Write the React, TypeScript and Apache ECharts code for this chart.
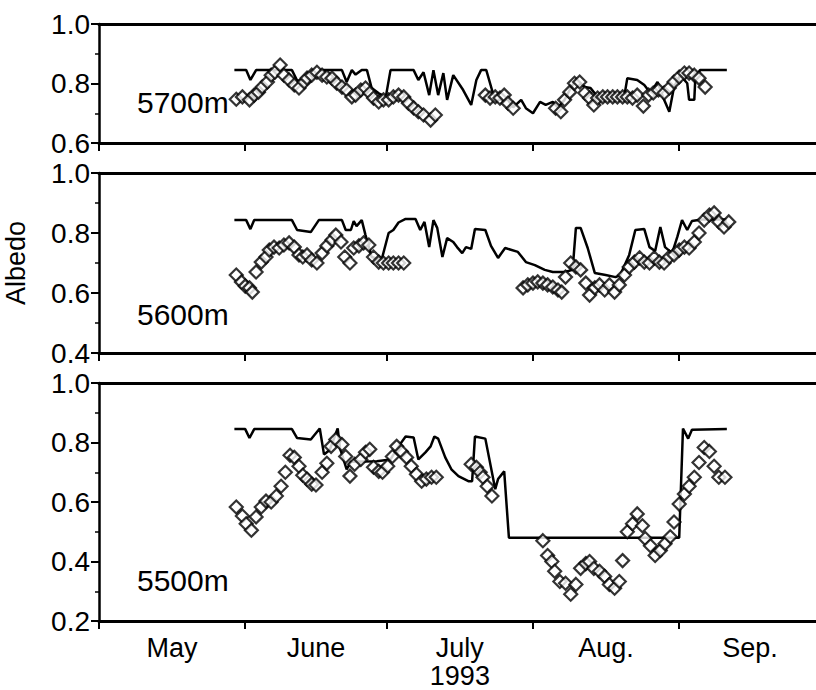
import React, { useEffect, useRef } from "react";
import * as echarts from "echarts";

// Day index: 0 = 1 May 1993
const monthStarts = [0, 31, 61, 92, 123];
const monthMids = [15.5, 46, 76.5, 107.5, 138];
const monthNames = ["May", "June", "July", "Aug.", "Sep."];
const yearLabel = "1993";
const panelLabels = ["5700m", "5600m", "5500m"];
const yMins = [0.6, 0.4, 0.2];

// 5700 m
const model5700: number[][] = [
  [28.7, 0.845], [31.2, 0.845], [32.1, 0.812], [33.3, 0.845], [40.9, 0.845], [42.0, 0.81], [44.9, 0.81],
  [47.0, 0.845], [51.5, 0.845], [52.5, 0.805], [53.6, 0.845], [54.4, 0.83], [55.7, 0.845], [56.8, 0.845],
  [57.8, 0.785], [59.3, 0.767], [60.8, 0.755], [61.8, 0.845], [66.7, 0.845], [67.7, 0.812], [68.8, 0.838],
  [70.0, 0.761], [70.9, 0.845], [71.9, 0.761], [73.0, 0.835], [73.8, 0.745], [75.1, 0.828], [77.2, 0.778],
  [78.9, 0.728], [80.0, 0.812], [81.0, 0.845], [82.1, 0.845], [83.5, 0.768], [84.2, 0.745], [86.7, 0.745],
  [87.8, 0.72], [89.5, 0.745], [90.5, 0.717], [92.0, 0.70], [93.5, 0.738], [94.7, 0.728], [96.2, 0.738],
  [97.3, 0.72], [98.7, 0.745], [100.0, 0.785], [101.1, 0.812], [103.0, 0.788], [104.2, 0.785], [105.7, 0.755],
  [108.4, 0.761], [111.4, 0.761], [112.0, 0.818], [114.1, 0.812], [115.6, 0.795], [116.9, 0.768], [118.4, 0.805],
  [119.8, 0.745], [120.9, 0.705], [121.9, 0.788], [123.2, 0.828], [124.7, 0.801], [125.1, 0.745], [126.2, 0.745],
  [126.4, 0.812], [127.4, 0.845], [133.1, 0.845],
];
const obs5700: number[][] = [
  [29.1, 0.747], [30.4, 0.755], [31.9, 0.745], [32.9, 0.761], [33.8, 0.771], [34.6, 0.788], [35.7, 0.805],
  [36.5, 0.828], [37.3, 0.838], [38.4, 0.862], [39.2, 0.828], [40.3, 0.812], [41.4, 0.795], [42.4, 0.785],
  [43.5, 0.805], [44.1, 0.818], [45.1, 0.828], [46.2, 0.838], [47.3, 0.828], [48.3, 0.822], [49.4, 0.818],
  [50.4, 0.801], [51.5, 0.788], [52.5, 0.778], [53.6, 0.755], [54.4, 0.761], [55.5, 0.778], [56.5, 0.785],
  [57.4, 0.768], [58.2, 0.751], [59.3, 0.738], [60.3, 0.745], [61.4, 0.745], [62.4, 0.755], [63.5, 0.761],
  [64.6, 0.755], [65.6, 0.734], [66.7, 0.718], [67.7, 0.705], [68.8, 0.694], [70.3, 0.677], [71.3, 0.694],
  [81.9, 0.761], [82.9, 0.751], [84.0, 0.755], [85.0, 0.751], [85.9, 0.761], [86.7, 0.734], [87.8, 0.717],
  [96.8, 0.717], [97.9, 0.705], [98.7, 0.745], [99.8, 0.771], [100.8, 0.801], [101.9, 0.805], [103.0, 0.768],
  [104.0, 0.751], [104.9, 0.728], [105.7, 0.751], [106.8, 0.755], [107.8, 0.755], [108.9, 0.755], [109.9, 0.755],
  [111.0, 0.755], [112.0, 0.755], [113.1, 0.751], [114.1, 0.761], [115.4, 0.724], [116.5, 0.761], [117.5, 0.768],
  [118.6, 0.778], [119.8, 0.768], [120.9, 0.785], [121.9, 0.805], [123.0, 0.822], [124.1, 0.835], [125.1, 0.835],
  [126.2, 0.828], [127.2, 0.818], [128.5, 0.788],
];

// 5600 m
const model5600: number[][] = [
  [28.7, 0.843], [31.2, 0.843], [32.1, 0.813], [32.9, 0.843], [40.9, 0.843], [42.0, 0.81], [44.9, 0.803],
  [46.6, 0.843], [51.5, 0.843], [52.3, 0.81], [53.4, 0.81], [54.0, 0.84], [54.6, 0.823], [55.7, 0.843],
  [56.5, 0.793], [57.8, 0.72], [59.9, 0.71], [61.4, 0.80], [62.4, 0.81], [63.5, 0.835], [65.0, 0.847],
  [67.1, 0.847], [68.1, 0.81], [69.0, 0.837], [70.0, 0.753], [70.9, 0.843], [71.7, 0.817], [72.8, 0.72],
  [73.8, 0.783], [75.1, 0.77], [75.9, 0.753], [77.0, 0.733], [77.8, 0.753], [78.9, 0.747], [79.7, 0.813],
  [81.9, 0.81], [83.1, 0.757], [84.6, 0.717], [86.1, 0.75], [88.8, 0.737], [90.5, 0.703], [92.4, 0.693],
  [94.5, 0.677], [96.2, 0.67], [98.7, 0.67], [100.4, 0.677], [101.1, 0.817], [102.1, 0.817], [103.6, 0.75],
  [105.1, 0.667], [107.4, 0.66], [109.5, 0.653], [110.5, 0.66], [112.4, 0.727], [113.7, 0.81], [115.6, 0.813],
  [116.7, 0.753], [117.9, 0.74], [119.0, 0.82], [120.0, 0.753], [121.5, 0.733], [122.6, 0.787], [123.6, 0.843],
  [124.7, 0.81], [125.7, 0.84], [127.8, 0.845], [133.1, 0.845],
];
const obs5600: number[][] = [
  [29.1, 0.66], [30.2, 0.637], [31.0, 0.623], [31.9, 0.617], [32.5, 0.603], [33.3, 0.67], [34.4, 0.703],
  [35.4, 0.72], [36.1, 0.743], [37.1, 0.753], [38.2, 0.75], [39.2, 0.76], [40.3, 0.767], [41.4, 0.753],
  [42.4, 0.727], [43.2, 0.72], [44.1, 0.727], [45.1, 0.71], [46.2, 0.70], [47.3, 0.733], [48.3, 0.757],
  [49.4, 0.777], [50.2, 0.793], [51.3, 0.77], [52.1, 0.72], [53.2, 0.70], [54.0, 0.75], [55.1, 0.757],
  [56.1, 0.767], [57.2, 0.76], [58.2, 0.72], [59.3, 0.703], [60.3, 0.70], [61.4, 0.70], [62.4, 0.70],
  [63.5, 0.70], [64.6, 0.70],
  [89.9, 0.617], [90.9, 0.627], [92.0, 0.633], [93.0, 0.637], [94.1, 0.633], [95.1, 0.627], [96.2, 0.62],
  [97.3, 0.61], [98.1, 0.603], [98.9, 0.653], [100.0, 0.70], [101.1, 0.687], [102.1, 0.677], [103.2, 0.633],
  [104.0, 0.593], [105.1, 0.617], [106.1, 0.627], [107.2, 0.61], [108.2, 0.627], [109.3, 0.603], [110.3, 0.627],
  [111.4, 0.66], [112.4, 0.687], [113.5, 0.703], [114.6, 0.717], [115.6, 0.703], [116.7, 0.70], [117.7, 0.717],
  [118.8, 0.703], [119.8, 0.70], [120.9, 0.72], [121.9, 0.727], [123.0, 0.743], [124.1, 0.753], [125.1, 0.75],
  [126.2, 0.77], [127.2, 0.80], [128.3, 0.843], [129.4, 0.86], [130.4, 0.867], [131.4, 0.837], [132.5, 0.82],
  [133.5, 0.837],
];

// 5500 m
const model5500: number[][] = [
  [28.7, 0.845], [31.0, 0.845], [31.9, 0.815], [32.9, 0.845], [40.9, 0.845], [42.0, 0.815], [44.9, 0.81],
  [46.8, 0.847], [47.7, 0.76], [48.9, 0.775], [50.6, 0.847], [51.1, 0.78], [52.5, 0.71], [53.4, 0.735],
  [58.9, 0.737], [61.8, 0.743], [63.5, 0.787], [65.0, 0.82], [66.7, 0.817], [67.7, 0.743], [69.2, 0.767],
  [70.3, 0.787], [71.1, 0.82], [71.9, 0.813], [73.4, 0.75], [74.7, 0.71], [76.2, 0.687], [78.3, 0.67],
  [79.1, 0.67], [79.7, 0.82], [81.9, 0.813], [84.0, 0.643], [84.6, 0.677], [85.9, 0.703], [86.9, 0.48],
  [123.0, 0.48], [123.8, 0.847], [124.9, 0.813], [125.7, 0.843], [133.1, 0.845],
];
const obs5500: number[][] = [
  [29.1, 0.583], [30.4, 0.553], [31.2, 0.527], [32.3, 0.505], [33.3, 0.55], [34.4, 0.583], [35.4, 0.603],
  [36.5, 0.60], [37.6, 0.62], [38.6, 0.653], [39.5, 0.70], [40.5, 0.757], [41.4, 0.75], [42.4, 0.72],
  [43.2, 0.69], [44.1, 0.677], [45.1, 0.66], [46.0, 0.657], [47.3, 0.70], [48.3, 0.73], [49.2, 0.787],
  [50.2, 0.81], [51.5, 0.793], [52.3, 0.753], [53.2, 0.687], [54.2, 0.727], [55.5, 0.743], [56.5, 0.767],
  [57.4, 0.777], [58.2, 0.717], [59.3, 0.703], [60.1, 0.70], [61.2, 0.72], [62.2, 0.753], [63.1, 0.787],
  [64.1, 0.77], [65.2, 0.75], [66.2, 0.72], [67.3, 0.693], [68.4, 0.67], [69.4, 0.677], [70.5, 0.683],
  [71.5, 0.683],
  [78.9, 0.727], [80.0, 0.717], [80.8, 0.70], [81.4, 0.683], [82.3, 0.653], [83.3, 0.62],
  [94.1, 0.47], [95.1, 0.42], [96.0, 0.40], [96.6, 0.367], [97.7, 0.333], [98.9, 0.327], [100.0, 0.29],
  [101.1, 0.323], [102.1, 0.377], [103.2, 0.393], [104.0, 0.40], [104.9, 0.377], [106.1, 0.367], [107.2, 0.35],
  [108.2, 0.323], [109.3, 0.31], [110.3, 0.333], [111.0, 0.403], [112.0, 0.50], [113.1, 0.527], [114.1, 0.56],
  [115.2, 0.52], [115.8, 0.477], [116.9, 0.453], [117.9, 0.42], [119.0, 0.437], [120.0, 0.46], [121.1, 0.483],
  [121.9, 0.533], [123.0, 0.593], [124.1, 0.627], [125.1, 0.653], [126.2, 0.683], [127.2, 0.733], [128.3, 0.783],
  [129.4, 0.77], [130.4, 0.72], [131.4, 0.683], [132.7, 0.683],
];

const modelSeries = [model5700, model5600, model5500];
const obsSeries = [obs5700, obs5600, obs5500];

const FONT = '"Liberation Sans", Arial, Helvetica, sans-serif';
const X_MAX = 152;
const PX_PER_DAY = 4.74;
const GRID_LEFT = 99;
const gridTops = [24, 173, 383];
const gridHeights = [119, 180, 240];
const panelLabelY = [102, 314, 580];

export default function App() {
  const ref = useRef<HTMLDivElement>(null);
  useEffect(() => {
    if (!ref.current) return;
    const chart = echarts.init(ref.current, null, { renderer: "svg" });
    const grid = gridTops.map((t, i) => ({
      left: GRID_LEFT,
      top: t,
      width: X_MAX * PX_PER_DAY,
      height: gridHeights[i],
    }));
    const xAxis: any[] = [];
    gridTops.forEach((_, i) => {
      xAxis.push({
        type: "value",
        gridIndex: i,
        position: "bottom",
        min: 0,
        max: X_MAX,
        axisLine: { onZero: false, lineStyle: { color: "#000", width: 3 } },
        axisTick: {
          show: true,
          customValues: monthStarts,
          length: 8,
          lineStyle: { color: "#000", width: 2 },
        },
        axisLabel:
          i === 2
            ? {
                show: true,
                customValues: monthMids,
                color: "#000",
                fontFamily: FONT,
                fontSize: 27,
                lineHeight: 28,
                margin: 13,
                formatter: (v: number) => {
                  const idx = monthMids.indexOf(v);
                  const name = idx >= 0 ? monthNames[idx] : "";
                  return name === "July" ? name + "\n" + yearLabel : name;
                },
              }
            : { show: false },
        splitLine: { show: false },
      });
      xAxis.push({
        type: "value",
        gridIndex: i,
        position: "top",
        min: 0,
        max: X_MAX,
        axisLine: { onZero: false, lineStyle: { color: "#000", width: 3 } },
        axisTick: { show: false },
        axisLabel: { show: false },
        splitLine: { show: false },
      });
    });
    const yAxis = gridTops.map((_, i) => ({
      type: "value",
      gridIndex: i,
      min: yMins[i],
      max: 1.0,
      interval: 0.2,
      axisLine: { show: true, lineStyle: { color: "#000", width: 2.5 } },
      axisTick: { show: true, length: 8, lineStyle: { color: "#000", width: 2 } },
      minorTick: { show: true, splitNumber: 2, length: 4, lineStyle: { color: "#000", width: 1.5 } },
      axisLabel: {
        color: "#000",
        fontFamily: FONT,
        fontSize: 28,
        margin: 9,
        formatter: (v: number) => v.toFixed(1),
      },
      splitLine: { show: false },
    }));
    const series: any[] = [];
    gridTops.forEach((_, i) => {
      series.push({
        type: "line",
        xAxisIndex: i * 2,
        yAxisIndex: i,
        data: modelSeries[i],
        showSymbol: false,
        lineStyle: { color: "#000", width: 2.5 },
        z: 2,
      });
      series.push({
        type: "scatter",
        xAxisIndex: i * 2,
        yAxisIndex: i,
        data: obsSeries[i],
        symbol: "diamond",
        symbolSize: 13,
        itemStyle: { color: "#fff", borderColor: "#000", borderWidth: 2.2 },
        z: 3,
      });
    });
    const graphic: any[] = [
      {
        type: "text",
        x: 16,
        y: 263,
        rotation: Math.PI / 2,
        style: {
          text: "Albedo",
          fontFamily: FONT,
          fontSize: 27,
          fill: "#000",
          align: "center",
          verticalAlign: "middle",
        },
      },
      ...panelLabels.map((t, i) => ({
        type: "text",
        x: 137,
        y: panelLabelY[i],
        style: {
          text: t,
          fontFamily: FONT,
          fontSize: 30,
          fill: "#000",
          align: "left",
          verticalAlign: "middle",
        },
      })),
    ];
    chart.setOption({
      animation: false,
      backgroundColor: "#fff",
      grid,
      xAxis,
      yAxis,
      series,
      graphic,
    });
    return () => chart.dispose();
  }, []);
  return (
    <div
      ref={ref}
      style={{ position: "fixed", left: 0, top: 0, width: 816, height: 690 }}
    />
  );
}
